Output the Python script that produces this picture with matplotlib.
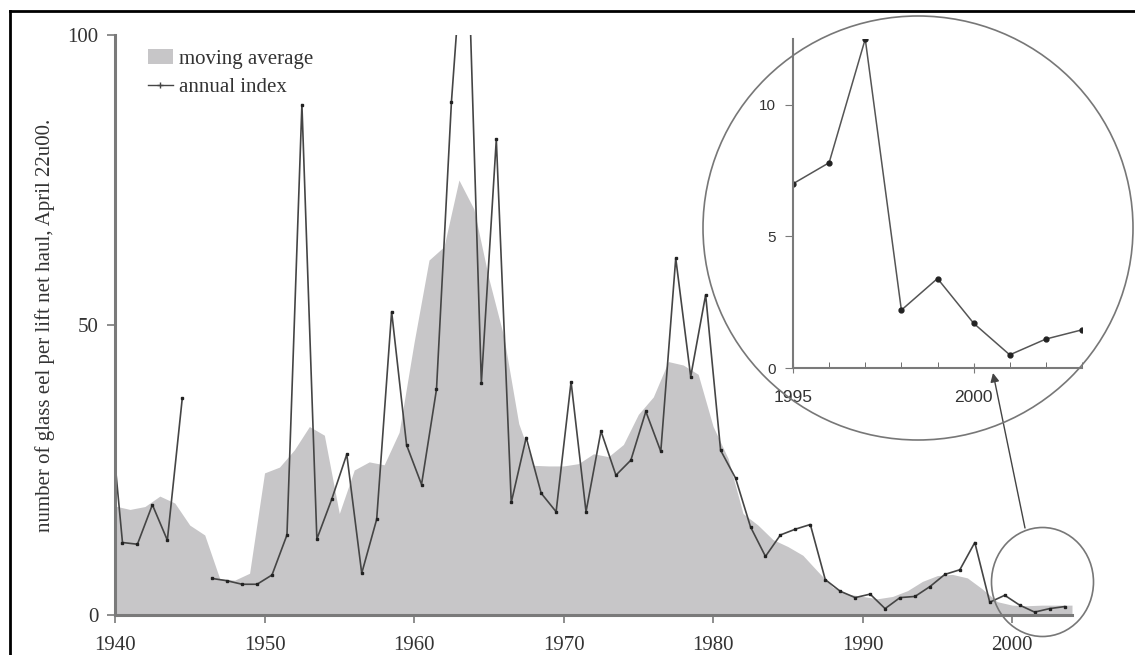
import numpy as np
import matplotlib
matplotlib.use('Agg')
import matplotlib.pyplot as plt
from matplotlib.patches import Ellipse, Patch
from matplotlib.lines import Line2D

# annual index, one value per year (plotted at mid-year)
years = np.arange(1939, 2004)
annual = [40.0, 12.5, 12.2, 19.0, 12.9, 37.4, np.nan, 6.3, 5.9, 5.3,
          5.3, 6.9, 13.8, 88.0, 13.1, 20.0, 27.7, 7.2, 16.5, 52.3,
          29.3, 22.5, 38.9, 88.5, 124.0, 40.0, 82.0, 19.4, 30.6, 21.0,
          17.8, 40.2, 17.8, 31.7, 24.1, 26.7, 35.1, 28.2, 61.5, 41.1,
          55.2, 28.4, 23.6, 15.2, 10.1, 13.8, 14.8, 15.6, 6.1, 4.1,
          3.0, 3.6, 1.1, 3.0, 3.2, 4.9, 7.0, 7.8, 12.5, 2.2,
          3.4, 1.7, 0.5, 1.1, 1.45]

# moving average (grey area)
ma_years = np.arange(1940, 2005)
ma_values = [18.8, 18.2, 18.7, 20.5, 19.3, 15.5, 13.8, 6.3, 6.0, 7.2,
             24.5, 25.5, 28.5, 32.5, 31.0, 17.5, 25.0, 26.4, 25.9, 31.5,
             47.0, 61.2, 63.5, 75.0, 70.0, 58.0, 48.0, 33.0, 25.8, 25.7,
             25.7, 26.1, 27.8, 27.3, 29.4, 34.6, 37.6, 43.7, 43.1, 41.5,
             32.5, 27.0, 17.5, 15.5, 13.0, 11.8, 10.3, 7.5, 4.8, 3.6,
             3.2, 2.8, 3.2, 4.2, 5.8, 6.8, 7.0, 6.4, 4.5, 2.3,
             1.7, 1.6, 1.7, 1.7, 1.7]

# zoomed view of the last years
inset_years = [1995, 1996, 1997, 1998, 1999, 2000, 2001, 2002, 2003]
inset_values = [7.0, 7.8, 12.5, 2.2, 3.4, 1.7, 0.5, 1.1, 1.45]

W, H = 1135, 655
fig = plt.figure(figsize=(W / 100, H / 100), dpi=100)


def fx(px):
    return px / W


def fy(py):
    return 1 - py / H


serif = 'Liberation Serif'
sans = 'Liberation Sans'
grey = '#c7c6c8'
axc = '#7a7a7a'
txt = '#333333'

ax = fig.add_axes([fx(115), fy(615), fx(1072) - fx(115), fy(35) - fy(615)])
ax.fill_between(ma_years, 0, ma_values, color=grey, lw=0)
ax.plot(years + 0.5, annual, color='#454545', lw=1.2, marker='s', ms=1.8,
        mfc='#222222', mec='#222222')
ax.set_xlim(1940, 2004)
ax.set_ylim(0, 100)
ax.set_xticks(range(1940, 2001, 10))
ax.set_yticks([0, 50, 100])
for s in ['top', 'right']:
    ax.spines[s].set_visible(False)
for s in ['left', 'bottom']:
    ax.spines[s].set_color(axc)
    ax.spines[s].set_linewidth(2.2)
ax.tick_params(color=axc, width=1.2, length=6, direction='out',
               labelsize=15, labelcolor=txt)
ax.tick_params(axis='x', pad=9)
ax.tick_params(axis='y', pad=6)
for lab in ax.get_xticklabels() + ax.get_yticklabels():
    lab.set_family(serif)
ax.set_ylabel('number of glass eel per lift net haul, April 22u00.',
              family=serif, fontsize=15, color=txt, labelpad=9)

handles = [Patch(facecolor=grey, edgecolor='none', label='moving average'),
           Line2D([], [], color='#454545', lw=1, marker='+', ms=4,
                  label='annual index')]
ax.legend(handles=handles, loc='upper left', bbox_to_anchor=(0.034, 0.975),
          frameon=False, prop={'family': serif, 'size': 15},
          handlelength=1.2, handletextpad=0.3, labelspacing=0.42,
          borderpad=0, borderaxespad=0, labelcolor=txt)

# inset
ax2 = fig.add_axes([fx(793), fy(368), fx(1082) - fx(793), fy(39) - fy(368)])
ax2.patch.set_alpha(0)
ax2.plot(inset_years, inset_values, color='#555555', lw=1.1, marker='o',
         ms=3.5, mfc='#222222', mec='#222222')
ax2.set_xlim(1995, 2003)
ax2.set_ylim(0, 12.5)
ax2.set_xticks([1995, 2000])
ax2.set_xticks(range(1995, 2004), minor=True)
ax2.set_yticks([0, 5, 10])
for s in ['top', 'right']:
    ax2.spines[s].set_visible(False)
for s in ['left', 'bottom']:
    ax2.spines[s].set_color(axc)
    ax2.spines[s].set_linewidth(1.5)
ax2.tick_params(axis='x', which='major', direction='inout', length=7,
                color=axc, labelsize=12.5, labelcolor=txt, pad=12)
ax2.tick_params(axis='x', which='minor', direction='in', length=4, color='#555555')
ax2.tick_params(axis='y', direction='out', length=6, color=axc,
                labelsize=11, labelcolor=txt, pad=6)
for lab in ax2.get_xticklabels() + ax2.get_yticklabels():
    lab.set_family(sans)

# circles, arrow and frame
fig.add_artist(Ellipse((fx(918), fy(228)), 430 / W, 424 / H,
                       transform=fig.transFigure, fill=False,
                       ec='#777777', lw=1.2))
fig.add_artist(Ellipse((fx(1042.5), fy(582)), 102 / W, 109 / H,
                       transform=fig.transFigure, fill=False,
                       ec='#777777', lw=1.2))
ax.annotate('', xy=(993, H - 373), xytext=(1025, H - 528),
            xycoords='figure pixels', textcoords='figure pixels',
            arrowprops=dict(arrowstyle='-|>', color='#444444', lw=1,
                            mutation_scale=13, shrinkA=0, shrinkB=0))
fig.add_artist(Line2D([fx(10), fx(10)], [0, fy(11)], color='black', lw=2))
fig.add_artist(Line2D([fx(10), 1], [fy(11), fy(11)], color='black', lw=2))

fig.savefig('out.png', dpi=100)
